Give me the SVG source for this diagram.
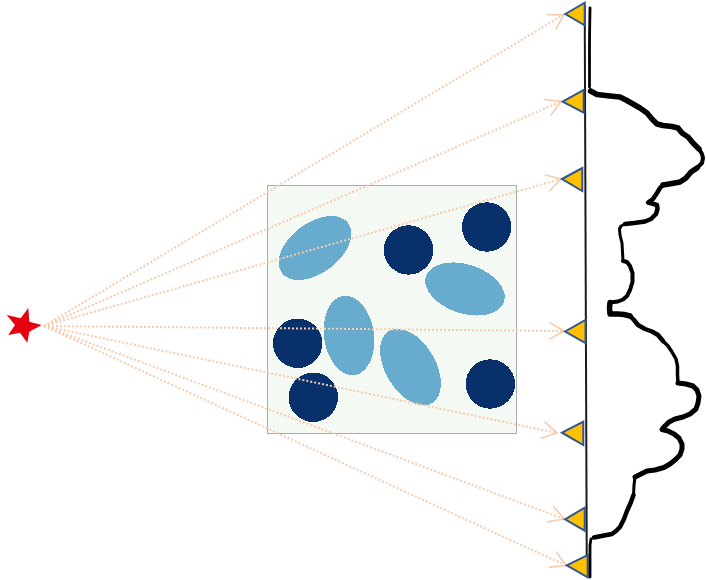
<svg xmlns="http://www.w3.org/2000/svg" width="706" height="580" viewBox="0 0 706 580">
<style>
.blue{fill:#67abcf;shape-rendering:crispEdges}
.navy{fill:#08306b;shape-rendering:crispEdges}
.ray{fill:none;stroke:#f8cbad;stroke-width:2;stroke-dasharray:2 2;marker-end:url(#open)}
.sensor{fill:#ffc000;stroke:#2f5597;stroke-width:2}
.prof{fill:none;stroke:#000;stroke-linejoin:round;stroke-linecap:round}
</style>
<defs>
<marker id="open" markerUnits="userSpaceOnUse" markerWidth="24" markerHeight="24" refX="18" refY="12" orient="auto" overflow="visible">
<path d="M3.3 3.5L18 12L3.3 20.5" fill="none" stroke="#f8cbad" stroke-width="1.6"/>
</marker>
</defs>
<rect width="706" height="580" fill="#fff"/>
<g id="phantom">
<rect x="267.5" y="185.5" width="249" height="248" fill="#f4f9f3" stroke="#a9aca9" stroke-width="1"/>
<ellipse class="blue" cx="315" cy="248" rx="41.5" ry="25" transform="rotate(-37 315 248)"/>
<ellipse class="blue" cx="465" cy="289" rx="41" ry="24.5" transform="rotate(18 465 289)"/>
<ellipse class="blue" cx="349" cy="335.5" rx="40" ry="25" transform="rotate(82 349 335.5)"/>
<ellipse class="blue" cx="410.5" cy="367" rx="42" ry="25" transform="rotate(59 410.5 367)"/>
<circle class="navy" cx="408.5" cy="250" r="24.7"/>
<circle class="navy" cx="486.7" cy="227" r="24.7"/>
<circle class="navy" cx="297.7" cy="343.3" r="24.7"/>
<circle class="navy" cx="313.3" cy="397.3" r="24.7"/>
<circle class="navy" cx="490.3" cy="384" r="24.7"/>
</g>
<g id="detector-line"><path d="M584.7 5L586.8 577" fill="none" stroke="#1a1a1a" stroke-width="2"/></g>
<g id="connectors">
<line class="ray" x1="44" y1="326" x2="564" y2="14.5"/>
<line class="ray" x1="44" y1="326" x2="561" y2="101.5"/>
<line class="ray" x1="44" y1="326" x2="561" y2="179"/>
<line class="ray" x1="44" y1="326" x2="564" y2="331"/>
<line class="ray" x1="44" y1="326" x2="557" y2="433"/>
<line class="ray" x1="44" y1="326" x2="564" y2="519"/>
<line class="ray" x1="44" y1="326" x2="566" y2="565.5"/>
</g>
<g id="source"><polygon fill="#e6000f" points="28.3,308 29.3,321.7 41.7,325 29.3,331.7 27.3,342.7 20,332.7 8.3,335 15,325 6.7,315 20.7,318.3"/></g>
<g id="sensor-1"><polygon class="sensor" points="565.3,14 584.7,2.7 584.7,25.3"/></g>
<g id="sensor-2"><polygon class="sensor" points="562.7,101.7 583.7,90 583.7,112.7"/></g>
<g id="sensor-3"><polygon class="sensor" points="562,179 582.3,168 582.3,191"/></g>
<g id="sensor-4"><polygon class="sensor" points="565,331.5 585.5,320 585.5,343"/></g>
<g id="sensor-5"><polygon class="sensor" points="562,432.7 583.3,421.7 583.3,445"/></g>
<g id="sensor-6"><polygon class="sensor" points="565,519.3 584.7,507.7 584.7,530.7"/></g>
<g id="sensor-7"><polygon class="sensor" points="566.7,565.3 587.7,555 587.7,577.3"/></g>
<g id="profile">
<polyline class="prof" stroke-width="2.8" points="590,8 589.5,40 589.5,70 589.5,87"/>
<polyline class="prof" stroke-width="5.5" points="590.5,91 597,94.5 610,96 620,97 626,100 633,104 640,108 647,113 652,119 657,124 663,125.5 672,126.5 678,128 682,133 688,137 693,143 699,149"/>
<polyline class="prof" stroke-width="4" points="699,149 702,154 703,158 702,163 697,168"/>
<polyline class="prof" stroke-width="5.5" points="697,168 691,172 686,178 680,182 672,183.5 663,185"/>
<polyline class="prof" stroke-width="4.5" points="663,185 660,188 657,193 653,199 648,202.5 652,203.5 657,205 657.5,209 656,214 651,219 645,221.5 634,223 625,224"/>
<polyline class="prof" stroke-width="3" points="625,224 621,226 619.5,229 620,235 622,243 622.5,252 623,261"/>
<polyline class="prof" stroke-width="4" points="623,261 627,262 630,266 632.5,273 632.5,282 630,290 627,296 623,299.5 618,301.5 610,302.5"/>
<polyline class="prof" stroke-width="5.5" points="610,302.5 609.5,308 610,314 618,314 624,314.5 630,316"/>
<polyline class="prof" stroke-width="4.5" points="630,316 634,320 638,325 645,329 652,331.5 658,335 663,341"/>
<polyline class="prof" stroke-width="3.5" points="663,341 668,346 672,352 676,359 677.5,366 677.5,375 678,383"/>
<polyline class="prof" stroke-width="5" points="678,383 686,384 693,386 697,390 699,396 698,403 696,409 690,414 683,417 675,419 669,422 665,426 662,429.5 668,431 674,434 679,438 682,444 682,449 680,455 675,460 670,464 664,467.5 655,470 647,471 641,474 635,477"/>
<polyline class="prof" stroke-width="3" points="635,477 634,485 633.5,495"/>
<polyline class="prof" stroke-width="4.5" points="633.5,495 631,502 627,511 624,519 620,527 616,531 612,534 604,535.5 594,537.5"/>
<polyline class="prof" stroke-width="2.8" points="591,539 590,545 590,560 590,577"/>
</g>
</svg>
